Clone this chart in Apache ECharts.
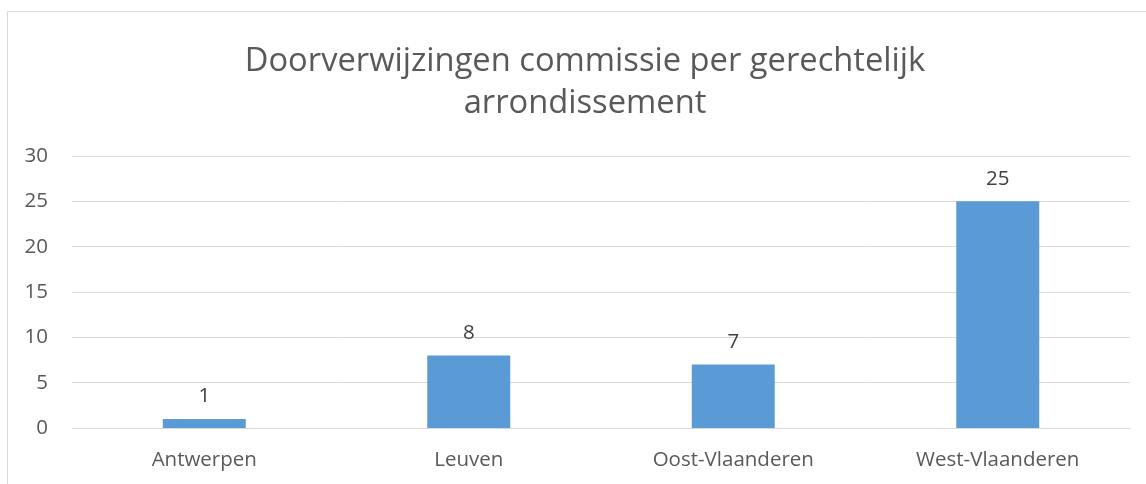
<!DOCTYPE html>
<html><head><meta charset="utf-8">
<script src="https://cdn.jsdelivr.net/npm/echarts@6/dist/echarts.min.js"></script>
<style>html,body{margin:0;padding:0;background:#fff}#c{width:1146px;height:484px}</style>
</head><body><div id="c"></div>
<script>
const categories = ['Antwerpen', 'Leuven', 'Oost-Vlaanderen', 'West-Vlaanderen'];
const values = [1, 8, 7, 25];
const titleText = 'Doorverwijzingen commissie per gerechtelijk\narrondissement';
const chart = echarts.init(document.getElementById('c'));
const font = '"Open Sans", sans-serif';
chart.setOption({
  animation: false,
  graphic: [{ type: 'rect', shape: { x: 7.5, y: 11.5, width: 1200, height: 600 }, style: { fill: 'none', stroke: '#d9d9d9', lineWidth: 1 }, silent: true }],
  title: { text: titleText, left: 580, top: 36, textAlign: 'center',
    textStyle: { fontFamily: font, fontSize: 32.7, fontWeight: 'normal', color: '#595959', lineHeight: 42 } },
  grid: { left: 72, right: 16, top: 156, bottom: 56 },
  xAxis: { type: 'category', data: categories,
    axisLine: { lineStyle: { color: '#d9d9d9' } }, axisTick: { show: false },
    axisLabel: { color: '#595959', fontFamily: font, fontSize: 20.5, margin: 22 } },
  yAxis: { type: 'value', min: 0, max: 30, interval: 5,
    axisLine: { show: false }, axisTick: { show: false },
    splitLine: { lineStyle: { color: '#d9d9d9' } },
    axisLabel: { color: '#595959', fontFamily: font, fontSize: 20.5, margin: 24 } },
  series: [{ type: 'bar', data: values, barWidth: 83,
    itemStyle: { color: '#5b9bd5' },
    label: { show: true, position: 'top', distance: 12, color: '#404040', fontFamily: font, fontSize: 20.5 } }]
});
</script></body></html>
